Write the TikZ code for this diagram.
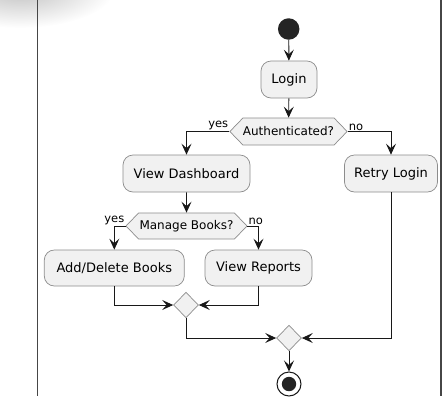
\documentclass[tikz,border=0pt]{standalone}
\usepackage{fontspec}
\setmainfont{DejaVu Sans}
\usepackage{xcolor}
\usetikzlibrary{arrows.meta,shapes.geometric,shapes.symbols}

\definecolor{actfill}{HTML}{F1F1F1}
\definecolor{actline}{HTML}{8C8C8C}
\definecolor{flow}{HTML}{181818}

\begin{document}
\begin{tikzpicture}[x=1pt,y=-1pt]
\tikzstyle{every node}=[font=\fontsize{13}{15}\selectfont]
\tikzstyle{act}=[draw=actline,fill=actfill,rounded corners=10pt,line width=0.7pt,minimum height=37pt,inner sep=0pt]
\tikzstyle{choice}=[draw=actline,fill=actfill,line width=0.7pt,signal,signal to=east and west,signal pointer angle=92,minimum height=27pt,inner sep=0pt,font=\fontsize{12}{14}\selectfont]
\tikzstyle{merge}=[draw=actline,fill=actfill,line width=0.7pt,diamond,minimum width=25pt,minimum height=25.5pt,inner sep=0pt]
\tikzstyle{flowline}=[draw=flow,line width=0.9pt,-{Stealth[length=11pt,width=10pt,inset=4.5pt]}]
\tikzstyle{lbl}=[font=\fontsize{11.5}{13}\selectfont,inner sep=1pt]

\useasboundingbox (0,0) rectangle (448,400);
% shadow in the corner
\shade[inner color=black!25,outer color=white] (20,-12) ellipse (95pt and 40pt);

% swimlane borders
\draw[flow!80,line width=1.4pt] (37.5,0) -- (37.5,396);
\draw[flow!80,line width=1.4pt] (441,0) -- (441,396);

\node (start) at (288.7,29) [circle,fill=flow!95,minimum size=21.5pt,inner sep=0pt] {};
\node (login) at (289,79.5) [act,minimum width=56pt] {Login};
\node (auth) at (288.5,131.5) [choice,minimum width=117pt] {Authenticated?};
\node (dash) at (186.5,173.5) [act,minimum width=127pt] {View Dashboard};
\node (retry) at (391,173.5) [act,minimum width=93pt] {Retry Login};
\node (manage) at (186.5,226) [choice,minimum width=121pt,minimum height=26pt] {Manage Books?};
\node (adddel) at (114.3,268) [act,minimum width=140pt,minimum height=36pt] {Add/Delete Books};
\node (reports) at (258.5,268) [act,minimum width=107pt,minimum height=36pt] {View Reports};
\node (merge1) at (186,305) [merge] {};
\node (merge2) at (289,338) [merge] {};
\node (stop) at (289,384) [circle,draw=flow,line width=1pt,fill=white,minimum size=24pt,inner sep=0pt] {};
\fill[flow!95] (stop) circle (7.2pt);

\node[lbl,anchor=south east] at (auth.west) {yes};
\node[lbl,anchor=south west] at (auth.east) {no};
\node[lbl,anchor=south east] at (manage.west) {yes};
\node[lbl,anchor=south west] at (manage.east) {no};

\path [flowline] (start) -- (login);
\path [flowline] (login) -- (auth);
\path [flowline] (auth.west) -| (dash.north);
\path [flowline] (auth.east) -| (retry.north);
\path [flowline] (dash) -- (manage);
\path [flowline] (manage.west) -| (adddel.north);
\path [flowline] (manage.east) -| (reports.north);
\path [flowline] (adddel.south) |- (merge1.west);
\path [flowline] (reports.south) |- (merge1.east);
\path [flowline] (merge1.south) |- (merge2.west);
\path [flowline] (retry.south) |- (merge2.east);
\path [flowline] (merge2) -- (stop);

\end{tikzpicture}
\end{document}
